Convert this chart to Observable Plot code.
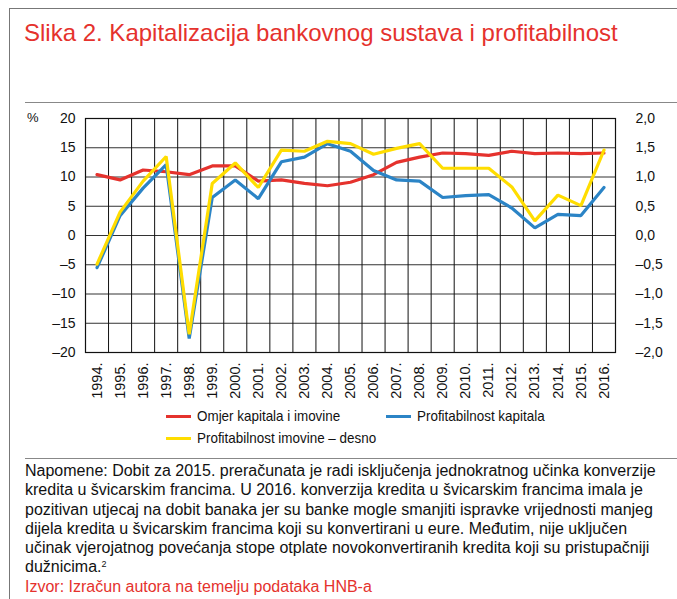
<!DOCTYPE html>
<html>
<head>
<meta charset="utf-8">
<script src="https://cdn.jsdelivr.net/npm/d3@7"></script>
<script src="https://cdn.jsdelivr.net/npm/@observablehq/plot@0.6"></script>
<style>
  html, body { margin: 0; padding: 0; background: #fff; }
  body { width: 677px; height: 599px; position: relative; overflow: hidden; font-family: "Liberation Sans", Arial, sans-serif; }
  .frame { position: absolute; left: 9px; top: 8px; width: 700px; height: 700px; border-left: 1.5px solid #777; border-top: 1.5px solid #777; }
  .title { position: absolute; left: 24px; top: 19px; font-size: 24px; color: #e5322d; white-space: nowrap; }
  .hline { position: absolute; left: 25px; right: 0; height: 0; border-top: 1.5px solid #888; }
  .pct { position: absolute; left: 27px; top: 110px; font-size: 13px; color: #111; }
  #chart { position: absolute; left: 0; top: 103px; }
  .legend { position: absolute; font-size: 15px; color: #111; white-space: nowrap; }
  .legend .sw { display: inline-block; width: 25px; height: 3px; vertical-align: middle; margin-right: 6px; position: relative; top: -1px; }
  .legend .lt { display: inline-block; transform: scaleX(0.895); transform-origin: left center; }
  .notes { position: absolute; left: 25px; top: 461px; font-size: 16px; line-height: 19.3px; color: #111; white-space: nowrap; }
  .notes .src { color: #e5322d; }
  sup { font-size: 9px; vertical-align: top; position: relative; top: -2px; }
</style>
</head>
<body>
<div class="frame"></div>
<div class="title">Slika 2. Kapitalizacija bankovnog sustava i profitabilnost</div>
<div class="hline" style="top:102px"></div>
<div class="pct">%</div>
<div id="chart"></div>
<div class="legend" style="left:166px; top:407px"><span class="sw" style="background:#e5322d"></span><span class="lt">Omjer kapitala i imovine</span></div>
<div class="legend" style="left:386px; top:407px"><span class="sw" style="background:#2b84c6"></span><span class="lt">Profitabilnost kapitala</span></div>
<div class="legend" style="left:166px; top:429px"><span class="sw" style="background:#ffdd00"></span><span class="lt">Profitabilnost imovine – desno</span></div>
<div class="hline" style="top:458px"></div>
<div class="notes">
Napomene: Dobit za 2015. preračunata je radi isključenja jednokratnog učinka konverzije<br>
kredita u švicarskim francima. U 2016. konverzija kredita u švicarskim francima imala je<br>
pozitivan utjecaj na dobit banaka jer su banke mogle smanjiti ispravke vrijednosti manjeg<br>
dijela kredita u švicarskim francima koji su konvertirani u eure. Međutim, nije uključen<br>
učinak vjerojatnog povećanja stope otplate novokonvertiranih kredita koji su pristupačniji<br>
dužnicima.<sup>2</sup><br>
<span class="src">Izvor: Izračun autora na temelju podataka HNB-a</span>
</div>
<script>
const years = [1994, 1995, 1996, 1997, 1998, 1999, 2000, 2001, 2002, 2003, 2004, 2005,
               2006, 2007, 2008, 2009, 2010, 2011, 2012, 2013, 2014, 2015, 2016];
// Omjer kapitala i imovine (left axis, %)
const capitalToAssets = [10.4, 9.5, 11.2, 10.9, 10.4, 11.9, 11.9, 9.3, 9.5, 8.9, 8.5, 9.1,
                         10.4, 12.5, 13.4, 14.1, 14.0, 13.7, 14.4, 14.0, 14.1, 14.0, 14.1];
// Profitabilnost kapitala (left axis, %)
const returnOnEquity = [-5.5, 3.4, 8.1, 12.1, -17.6, 6.5, 9.5, 6.3, 12.6, 13.4, 15.7, 14.4,
                        11.1, 9.5, 9.3, 6.5, 6.8, 7.0, 4.7, 1.3, 3.6, 3.4, 8.2];
// Profitabilnost imovine – desno (right axis, %)
const returnOnAssets = [-0.49, 0.40, 0.93, 1.35, -1.69, 0.89, 1.24, 0.82, 1.46, 1.44, 1.61, 1.57,
                        1.39, 1.49, 1.57, 1.15, 1.15, 1.15, 0.83, 0.25, 0.69, 0.51, 1.46];
const leftTicks = [-20, -15, -10, -5, 0, 5, 10, 15, 20];
const rightTicks = [-2.0, -1.5, -1.0, -0.5, 0.0, 0.5, 1.0, 1.5, 2.0];
const rightToLeft = 10; // right axis scale factor relative to left axis

const colors = { cap: "#e5322d", roe: "#2b84c6", roa: "#ffdd00" };

const capData = years.map((year, i) => ({ year, v: capitalToAssets[i] }));
const roeData = years.map((year, i) => ({ year, v: returnOnEquity[i] }));
const roaData = years.map((year, i) => ({ year, v: returnOnAssets[i] * rightToLeft }));
const boundaries = [...years.map(y => y - 0.5), years[years.length - 1] + 0.5];

const dash = s => s.replace("-", "–");

const chart = Plot.plot({
  width: 677,
  height: 301,
  marginLeft: 85,
  marginRight: 62,
  marginTop: 15,
  marginBottom: 52,
  style: { fontFamily: '"Liberation Sans", Arial, sans-serif', fontSize: "14px", color: "#111", background: "transparent" },
  x: { type: "linear", domain: [boundaries[0], boundaries[boundaries.length - 1]] },
  y: { domain: [-20, 20] },
  marks: [
    Plot.ruleY(leftTicks, { stroke: "#333", strokeWidth: 1 }),
    Plot.ruleX(boundaries, { stroke: "#111", strokeWidth: 1 }),
    Plot.frame({ stroke: "#111", strokeWidth: 1.2 }),
    Plot.axisY(leftTicks, { anchor: "left", tickSize: 0, tickPadding: 10, label: null,
      tickFormat: d => dash(String(d)), fontSize: 14 }),
    Plot.axisY(rightTicks.map(t => t * rightToLeft), { anchor: "right", tickSize: 0, tickPadding: 20, label: null,
      tickFormat: d => dash((d / rightToLeft).toFixed(1).replace(".", ",")), fontSize: 14 }),
    Plot.axisX(years, { anchor: "bottom", tickSize: 0, tickPadding: 10, tickRotate: -90, label: null,
      tickFormat: d => d + ".", fontSize: 14.5 }),
    Plot.line(capData, { x: "year", y: "v", stroke: colors.cap, strokeWidth: 3.2, strokeLinejoin: "miter" }),
    Plot.line(roeData, { x: "year", y: "v", stroke: colors.roe, strokeWidth: 3.2, strokeLinejoin: "miter" }),
    Plot.line(roaData, { x: "year", y: "v", stroke: colors.roa, strokeWidth: 3.2, strokeLinejoin: "miter" })
  ]
});
document.getElementById("chart").appendChild(chart);
</script>
</body>
</html>
